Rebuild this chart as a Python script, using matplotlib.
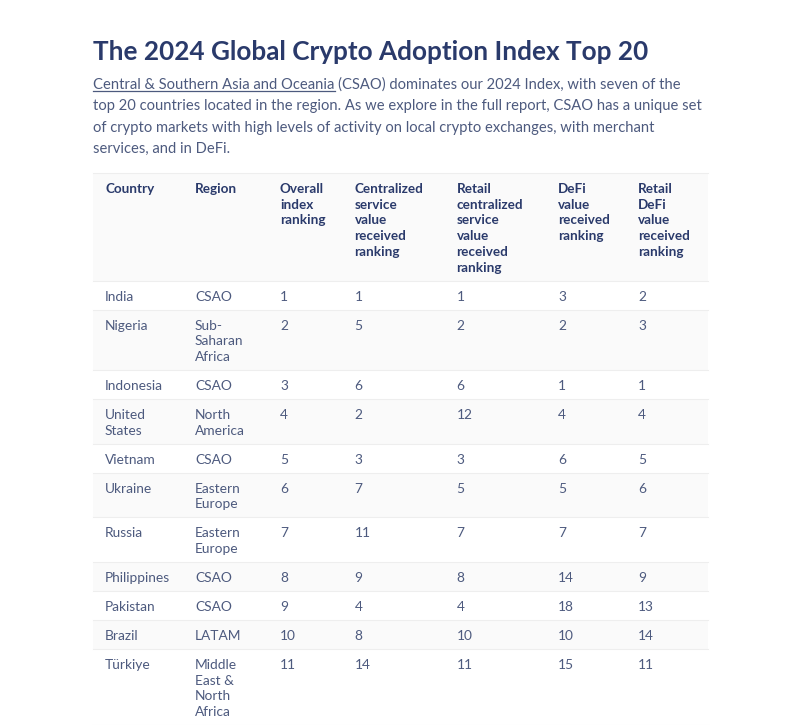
import matplotlib
matplotlib.use('Agg')
import matplotlib.pyplot as plt
from matplotlib.patches import Rectangle

plt.rcParams['font.family'] = ['Lato', 'DejaVu Sans']

title = 'The 2024 Global Crypto Adoption Index Top 20'
intro_lines = [
    'Central & Southern Asia and Oceania (CSAO) dominates our 2024 Index, with seven of the',
    'top 20 countries located in the region. As we explore in the full report, CSAO has a unique set',
    'of crypto markets with high levels of activity on local crypto exchanges, with merchant',
    'services, and in DeFi.',
]

columns = ['Country', 'Region', 'Overall\nindex\nranking', 'Centralized\nservice\nvalue\nreceived\nranking',
           'Retail\ncentralized\nservice\nvalue\nreceived\nranking', 'DeFi\nvalue\nreceived\nranking',
           'Retail\nDeFi\nvalue\nreceived\nranking']

countries = ['India', 'Nigeria', 'Indonesia', 'United\nStates', 'Vietnam', 'Ukraine', 'Russia',
             'Philippines', 'Pakistan', 'Brazil', 'Türkiye']
regions = ['CSAO', 'Sub-\nSaharan\nAfrica', 'CSAO', 'North\nAmerica', 'CSAO', 'Eastern\nEurope', 'Eastern\nEurope',
           'CSAO', 'CSAO', 'LATAM', 'Middle\nEast &\nNorth\nAfrica']
overall_rank = [1, 2, 3, 4, 5, 6, 7, 8, 9, 10, 11]
centralized_rank = [1, 5, 6, 2, 3, 7, 11, 9, 4, 8, 14]
retail_centralized_rank = [1, 2, 6, 12, 3, 5, 7, 8, 4, 10, 11]
defi_rank = [3, 2, 1, 4, 6, 5, 7, 14, 18, 10, 15]
retail_defi_rank = [2, 3, 1, 4, 5, 6, 7, 9, 13, 14, 11]

# pixel layout of the page
W, H = 800, 725
col_x = [105, 195, 280, 354.5, 456.5, 558, 638]
table_left, table_right = 93, 708
table_top = 173
line_h = 15.7
row_pad = 13.3

NAVY = '#2a3a6b'
BODY = '#4d5a7e'
STRIPE = '#fafafa'
RULE = '#eeeeee'

fig = plt.figure(figsize=(W / 100, H / 100), dpi=100)
ax = fig.add_axes([0, 0, 1, 1])
ax.set_xlim(0, W)
ax.set_ylim(H, 0)
ax.axis('off')


def draw_row(y, cells, shaded, color, weight, size):
    n_lines = max(c.count('\n') + 1 for c in cells)
    height = n_lines * line_h + row_pad
    if shaded:
        ax.add_patch(Rectangle((table_left, y), table_right - table_left, height, fc=STRIPE, ec='none', zorder=0))
    for x, cell in zip(col_x, cells):
        for i, part in enumerate(cell.split('\n')):
            ax.text(x, y + 15 + i * line_h, part, color=color, fontweight=weight, fontsize=size,
                    ha='left', va='center_baseline')
    ax.plot([table_left, table_right], [y + height, y + height], color=RULE, lw=0.8, zorder=1)
    return y + height


ax.text(93, 50, title, color=NAVY, fontsize=18.85, fontweight='bold', ha='left', va='center_baseline')

for i, line in enumerate(intro_lines):
    ax.text(93, 83.5 + i * 21.3, line, color=BODY, fontsize=10.6, ha='left', va='center_baseline')

# underline below the linked part of the first line
ax.plot([93, 334.5], [90.5, 90.5], color=BODY, lw=0.9)

ax.plot([table_left, table_right], [table_top, table_top], color=RULE, lw=0.8, zorder=1)
y = draw_row(table_top, columns, True, NAVY, 'bold', 9.7)
for r in range(len(countries)):
    cells = [countries[r], regions[r], str(overall_rank[r]), str(centralized_rank[r]),
             str(retail_centralized_rank[r]), str(defi_rank[r]), str(retail_defi_rank[r])]
    y = draw_row(y, cells, r % 2 == 1, BODY, 'normal', 9.9)

fig.savefig('out.png', dpi=100, facecolor='white')
